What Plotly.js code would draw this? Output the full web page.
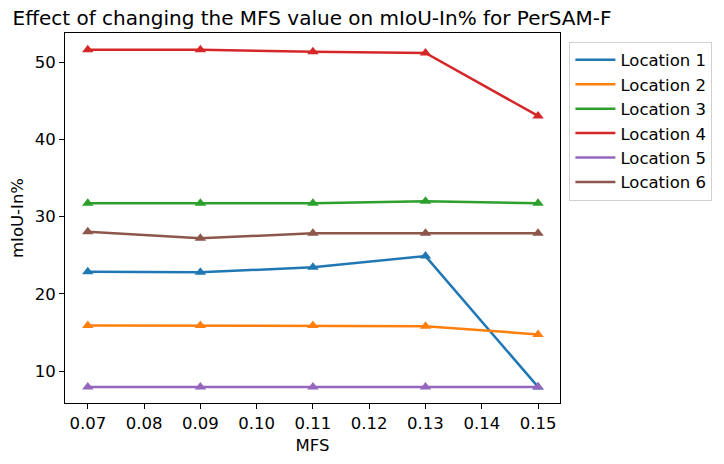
<!DOCTYPE html>
<html>
<head>
<meta charset="utf-8">
<script src="https://cdn.plot.ly/plotly-3.0.1.min.js"></script>
<style>html,body{margin:0;padding:0;background:#fff;}#chart{width:724px;height:464px;}</style>
</head>
<body>
<div id="chart"></div>
<script>
const mfs = [0.07, 0.09, 0.11, 0.13, 0.15];
const seriesNames = ["Location 1", "Location 2", "Location 3", "Location 4", "Location 5", "Location 6"];
const location1 = [22.88, 22.8, 23.45, 24.9, 7.98];
const location2 = [15.93, 15.93, 15.93, 15.84, 14.77];
const location3 = [31.74, 31.74, 31.74, 31.99, 31.74];
const location4 = [51.59, 51.59, 51.33, 51.17, 43.04];
const location5 = [7.98, 7.98, 7.98, 7.98, 7.98];
const location6 = [28.06, 27.2, 27.85, 27.85, 27.85];
const xTicks = [0.07, 0.08, 0.09, 0.10, 0.11, 0.12, 0.13, 0.14, 0.15];
const xTickText = ["0.07", "0.08", "0.09", "0.10", "0.11", "0.12", "0.13", "0.14", "0.15"];
const yTicks = [10, 20, 30, 40, 50];

const colors = ["#1f77b4", "#ff7f0e", "#2ca02c", "#d62728", "#9467bd", "#8c564b"];
const allValues = [location1, location2, location3, location4, location5, location6];

const dataTraces = allValues.map((vals, i) => ({
  x: mfs,
  y: vals,
  name: seriesNames[i],
  type: "scatter",
  mode: "lines+markers",
  showlegend: false,
  line: {color: colors[i], width: 2.5},
  marker: {symbol: "triangle-up", size: 10, color: colors[i]}
}));
const legendTraces = seriesNames.map((n, i) => ({
  x: [null],
  y: [null],
  name: n,
  type: "scatter",
  mode: "lines",
  line: {color: colors[i], width: 2.5}
}));

const tf = {family: "DejaVu Sans", size: 16.5, color: "#000"};
const layout = {
  width: 724,
  height: 464,
  paper_bgcolor: "#fff",
  plot_bgcolor: "#fff",
  font: tf,
  margin: {l: 64.5, r: 164, t: 33.3, b: 61.3},
  title: {
    text: "Effect of changing the MFS value on mIoU-In% for PerSAM-F",
    font: {family: "DejaVu Sans", size: 20, color: "#000"},
    x: 312 / 724, xanchor: "center",
    y: 1 - 18 / 464, yanchor: "middle"
  },
  xaxis: {
    range: [0.06595, 0.1539],
    tickvals: xTicks,
    ticktext: xTickText,
    showgrid: false,
    zeroline: false,
    showline: true,
    linecolor: "#000",
    linewidth: 1,
    mirror: true,
    ticks: "outside",
    ticklen: 5,
    tickwidth: 1,
    tickcolor: "#000",
    tickfont: tf,
    title: {text: "MFS", font: tf, standoff: 7}
  },
  yaxis: {
    range: [5.9, 53.76],
    tickvals: yTicks,
    showgrid: false,
    zeroline: false,
    showline: true,
    linecolor: "#000",
    linewidth: 1,
    mirror: true,
    ticks: "outside",
    ticklen: 5,
    tickwidth: 1,
    tickcolor: "#000",
    tickfont: tf,
    title: {text: "mIoU-In%", font: tf, standoff: 6}
  },
  showlegend: true,
  legend: {
    x: 1.019, y: 0.977,
    xanchor: "left", yanchor: "top",
    bgcolor: "#fff",
    bordercolor: "#d0d0d0",
    borderwidth: 1,
    font: tf,
    itemwidth: 40,
    tracegroupgap: 0
  }
};

Plotly.newPlot("chart", dataTraces.concat(legendTraces), layout, {displayModeBar: false, staticPlot: true});
</script>
</body>
</html>
